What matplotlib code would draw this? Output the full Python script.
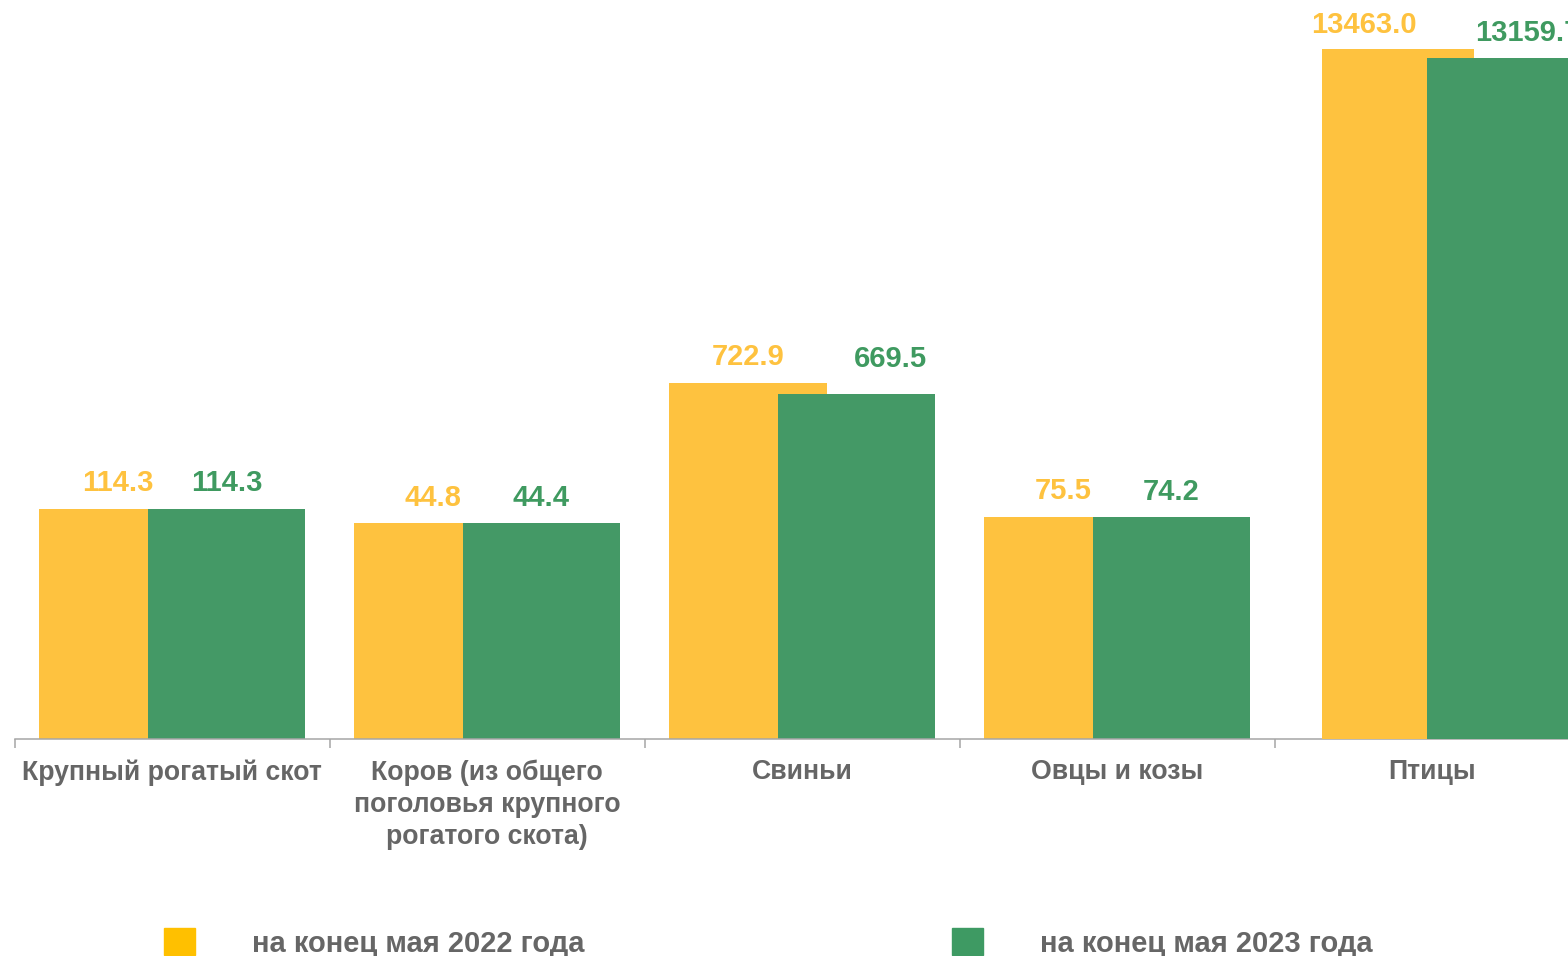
import matplotlib.pyplot as plt
from matplotlib.patches import Patch
import numpy as np

plt.rcParams['font.family'] = ['Liberation Sans', 'DejaVu Sans']
plt.rcParams['font.weight'] = 'bold'

categories = ['Крупный рогатый скот',
              'Коров (из общего\nпоголовья крупного\nрогатого скота)',
              'Свиньи', 'Овцы и козы', 'Птицы']
values_2022 = [114.3, 44.8, 722.9, 75.5, 13463.0]
values_2023 = [114.3, 44.4, 669.5, 74.2, 13159.7]
# the last category (birds) sits on a secondary axis
on_secondary = [False, False, False, False, True]
series_labels = ['на конец мая 2022 года', 'на конец мая 2023 года']

YELLOW = '#FEC23F'
GREEN = '#449966'
GRAY_TEXT = '#666666'
GRAY_AXIS = '#A6A6A6'

ylim_main = (-995, 2410)
ylim_sec = (-10000, 14000)

# a few value labels were dragged by hand in the original (points)
label_nudge = {(0, 4): (-24.5, 11.3), (1, 2): (24.5, 19.0), (1, 4): (18.0, 12.5)}

fig = plt.figure(figsize=(15.68, 9.56), dpi=100)
ax = fig.add_axes([14.7 / 1568, (956 - 738.5) / 956, 1575 / 1568, 705.3 / 956])
ax2 = ax.twinx()

x = np.arange(len(categories))


def add_label(axis, xc, y, text, color, nudge):
    axis.annotate(text, (xc, y), xytext=nudge, textcoords='offset points',
                  ha='center', va='baseline', fontsize=21, fontweight='bold',
                  color=color, annotation_clip=False)


for i in range(len(categories)):
    if on_secondary[i]:
        axis, lim, w, off1, off2 = ax2, ylim_sec, 0.4816, -0.109, 0.224
    else:
        axis, lim, w, off1, off2 = ax, ylim_main, 0.5, -0.172, 0.172
    base = lim[0]
    axis.bar(x[i] + off1, values_2022[i] - base, bottom=base, width=w,
             color=YELLOW, zorder=2)
    axis.bar(x[i] + off2, values_2023[i] - base, bottom=base, width=w,
             color=GREEN, zorder=3)
    add_label(axis, x[i] + off1, values_2022[i], f'{values_2022[i]:.1f}', YELLOW,
              label_nudge.get((0, i), (0, 12.6)))
    add_label(axis, x[i] + off2, values_2023[i], f'{values_2023[i]:.1f}', '#3F9A60',
              label_nudge.get((1, i), (0, 12.6)))

ax.set_ylim(*ylim_main)
ax2.set_ylim(*ylim_sec)
ax.set_xlim(-0.5, len(categories) - 0.5)

for a in (ax, ax2):
    for s in ('top', 'right', 'left'):
        a.spines[s].set_visible(False)
    a.set_yticks([])
ax2.spines['bottom'].set_visible(False)
ax.spines['bottom'].set_color(GRAY_AXIS)
ax.spines['bottom'].set_linewidth(1.1)
ax.spines['bottom'].set_zorder(5)

ax.set_xticks(np.arange(len(categories) + 1) - 0.5)
ax.set_xticklabels([])
ax.tick_params(axis='x', which='major', length=6.5, width=1.1, color=GRAY_AXIS)
ax.set_xticks(x, minor=True)
ax.set_xticklabels(categories, minor=True, fontsize=19.2, fontweight='bold',
                   color=GRAY_TEXT, linespacing=1.3)
ax.tick_params(axis='x', which='minor', length=0, pad=15)

handles = [Patch(color='#FFC000'), Patch(color='#3E9A63')]
leg = fig.legend(handles, series_labels, loc='center left',
                 bbox_to_anchor=(164 / 1568, 13 / 956), ncol=2, frameon=False,
                 fontsize=21, handlelength=1.06, handleheight=1.06,
                 handletextpad=1.95, columnspacing=12.6, borderpad=0,
                 borderaxespad=0)
for t in leg.get_texts():
    t.set_color(GRAY_TEXT)
    t.set_fontweight('bold')

fig.savefig('out.png', dpi=100)
